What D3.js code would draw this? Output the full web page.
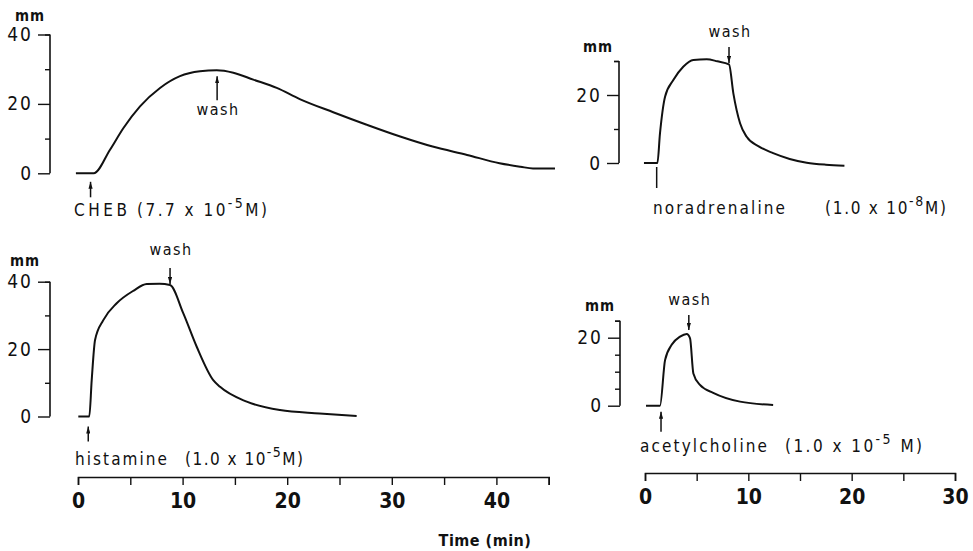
<!DOCTYPE html>
<html>
<head>
<meta charset="utf-8">
<script src="https://cdn.jsdelivr.net/npm/d3@7"></script>
<style>
  html, body { margin: 0; padding: 0; background: #fff; }
  svg { display: block; }
</style>
</head>
<body>
<script>
const W = 973, H = 551;
const FONT = "'Liberation Sans Narrow', 'DejaVu Sans Condensed', 'DejaVu Sans', sans-serif";
const INK = "#111";

// time axis ticks (min)
const leftTimeTicks = [0, 5, 10, 15, 20, 25, 30, 35, 40, 45];
const rightTimeTicks = [0, 5, 10, 15, 20, 25, 30];
const timeLabels = [0, 10, 20, 30, 40];

// traces: [time (min), contraction (mm)]
const chebTrace = [[-0.2, 0], [1.5, 0], [3.06, 6.8], [4.33, 13], [5.93, 19.3], [7.84, 24.6],
  [9.75, 28], [11.66, 29.4], [13.26, 29.7], [14.85, 29], [16.76, 27], [19.0, 24.6],
  [21.2, 21.4], [24.4, 17.6], [27.6, 14], [30.8, 10.6], [33.9, 7.7], [37.2, 5.3],
  [40.3, 2.9], [42.3, 1.9], [43.5, 1.4], [45.6, 1.4]];
const noradTrace = [[-0.1, 0], [1.2, 0], [1.45, 8.7], [1.94, 19.5], [2.74, 24.4], [3.7, 28.3],
  [4.68, 30.3], [5.97, 30.5], [7.0, 29.9], [8.13, 29], [8.55, 20.5], [9.2, 11.7],
  [9.84, 7.7], [11.0, 4.9], [12.4, 2.9], [14.0, 1.2], [15.65, 0.1], [17.5, -0.5], [19.3, -0.8]];
const histTrace = [[0.03, 0], [1.08, 0], [1.31, 10.8], [1.63, 22.7], [2.42, 28.6], [3.7, 33.6],
  [5.29, 37.3], [6.57, 39.3], [7.8, 39.4], [8.8, 39.0], [10.07, 30.6], [11.35, 20.7],
  [12.93, 10.8], [13.58, 8.8], [16.13, 4.4], [19.31, 1.9], [23.1, 0.9], [26.64, 0.15]];
const achTrace = [[0.1, 0], [1.45, 0], [1.94, 13.4], [2.58, 17.9], [3.39, 20.3], [4.04, 21.1],
  [4.36, 19.8], [4.68, 9.5], [5.32, 6.1], [6.6, 3.8], [9.2, 1.2], [12.4, 0.2]];

// y axis ticks (mm)
const chebMajor = [0, 20, 40], chebMinor = [10, 30];
const noradMajor = [0, 20], noradMinor = [10, 30];
const histMajor = [0, 20, 40], histMinor = [10, 30];
const achMajor = [0, 20], achMinor = [5, 10, 15, 25];

// drug addition and wash times (min)
const chebInject = 1.2, chebWash = 13.3;
const noradInject = 1.13, noradWash = 8.13;
const histInject = 0.98, histWash = 8.8;
const achInject = 1.55, achWash = 4.24;

const xLeft = d3.scaleLinear().domain([0, 45]).range([78, 548.7]);
const xRight = d3.scaleLinear().domain([0, 30]).range([645, 955]);

const svg = d3.select("body").append("svg")
  .attr("width", W).attr("height", H)
  .style("background", "#fff");

svg.append("defs").append("marker")
  .attr("id", "head")
  .attr("viewBox", "0 0 10 6")
  .attr("refX", 10).attr("refY", 3)
  .attr("markerUnits", "userSpaceOnUse")
  .attr("markerWidth", 7).attr("markerHeight", 4.2)
  .attr("orient", "auto")
  .append("path")
  .attr("d", "M0,0 L10,3 L0,6 Z")
  .attr("fill", INK);

// Bottom time axes: ticks hang below the line.
function timeAxis(x, y, ticks) {
  const g = svg.append("g").attr("transform", `translate(0,${y})`)
    .call(d3.axisBottom(x).tickValues(ticks).tickSize(8).tickSizeOuter(8).tickPadding(8)
      .tickFormat(d => timeLabels.includes(d) ? d : ""));
  g.select(".domain").attr("stroke", INK).attr("stroke-width", 1.6);
  g.selectAll(".tick line").attr("stroke", INK).attr("stroke-width", 1.4);
  g.selectAll(".tick text").attr("fill", INK)
    .style("font-family", FONT).style("font-size", "21px").style("font-weight", "bold");
}
timeAxis(xLeft, 477, leftTimeTicks);
timeAxis(xRight, 473, rightTimeTicks);

svg.append("text")
  .attr("x", 485).attr("y", 546)
  .attr("text-anchor", "middle")
  .attr("fill", INK)
  .style("font-family", FONT).style("font-size", "16px").style("font-weight", "bold")
  .style("letter-spacing", "0.5px")
  .text("Time (min)");

const panels = [
  { trace: chebTrace, x: xLeft, yDomain: [0, 40], yRange: [173.3, 34.5], axisX: 50,
    major: chebMajor, minor: chebMinor, mm: [30, 21],
    inject: chebInject, injectY: [24, 8.5], injectHead: true,
    wash: chebWash, washY: [-73, -97], washLabelY: -58.5,
    labels: [
      { x: 74, len: 53, parts: ["CHEB"] },
      { x: 137, len: 130, parts: ["(7.7 x 10", "-5", "M)"] }
    ], labelY: 216 },
  { trace: noradTrace, x: xRight, yDomain: [0, 30], yRange: [163, 61], axisX: 619,
    major: noradMajor, minor: noradMinor, mm: [598, 52],
    inject: noradInject, injectY: [25, 4], injectHead: false,
    wash: noradWash, washY: [-116, -100], washLabelY: -126,
    labels: [
      { x: 653, len: 132, parts: ["noradrenaline"] },
      { x: 825, len: 121, parts: ["(1.0 x 10", "-8", "M)"] }
    ], labelY: 214 },
  { trace: histTrace, x: xLeft, yDomain: [0, 40], yRange: [416.5, 281.7], axisX: 50,
    major: histMajor, minor: histMinor, mm: [25, 266],
    inject: histInject, injectY: [25, 10], injectHead: true,
    wash: histWash, washY: [-148.5, -132.5], washLabelY: -161.5,
    labels: [
      { x: 75, len: 92, parts: ["histamine"] },
      { x: 185, len: 118, parts: ["(1.0 x 10", "-5", "M)"] }
    ], labelY: 465 },
  { trace: achTrace, x: xRight, yDomain: [0, 25], yRange: [405.7, 320.7], axisX: 620,
    major: achMajor, minor: achMinor, mm: [600, 311],
    inject: achInject, injectY: [26, 6], injectHead: true,
    wash: achWash, washY: [-90.7, -75.7], washLabelY: -100.7,
    labels: [
      { x: 640, len: 127, parts: ["acetylcholine"] },
      { x: 785, len: 137, parts: ["(1.0 x 10", "-5", " M)"] }
    ], labelY: 452 }
];

const line = d3.line().curve(d3.curveMonotoneX);

panels.forEach(p => {
  const y = d3.scaleLinear().domain(p.yDomain).range(p.yRange);
  const y0 = y(0);

  // y axis: long labelled ticks plus short unlabelled ones
  const ga = svg.append("g").attr("transform", `translate(${p.axisX},0)`)
    .call(d3.axisLeft(y).tickValues(p.major).tickSize(12).tickSizeOuter(0).tickPadding(5));
  ga.select(".domain").remove();
  ga.selectAll(".tick line").attr("stroke", INK).attr("stroke-width", 1.4);
  ga.selectAll(".tick text").attr("fill", INK)
    .style("font-family", FONT).style("font-size", "19px").style("letter-spacing", "2px");
  const gm = svg.append("g").attr("transform", `translate(${p.axisX},0)`)
    .call(d3.axisLeft(y).tickValues(p.minor.concat([p.yDomain[1]])).tickSize(5).tickFormat(""));
  gm.select(".domain").remove();
  gm.selectAll(".tick line").attr("stroke", INK).attr("stroke-width", 1.4);
  svg.append("line")
    .attr("x1", p.axisX).attr("x2", p.axisX)
    .attr("y1", p.yRange[0]).attr("y2", p.yRange[1])
    .attr("stroke", INK).attr("stroke-width", 1.6);

  svg.append("text")
    .attr("x", p.mm[0]).attr("y", p.mm[1])
    .attr("text-anchor", "middle").attr("fill", INK)
    .style("font-family", FONT).style("font-size", "15px").style("font-weight", "bold")
    .style("letter-spacing", "1px")
    .text("mm");

  // trace
  svg.append("path")
    .attr("d", line(p.trace.map(d => [p.x(d[0]), y(d[1])])))
    .attr("fill", "none").attr("stroke", INK).attr("stroke-width", 2);

  // drug addition marker
  const xi = p.x(p.inject);
  svg.append("line")
    .attr("x1", xi).attr("x2", xi)
    .attr("y1", y0 + p.injectY[0]).attr("y2", y0 + p.injectY[1])
    .attr("stroke", INK).attr("stroke-width", 1.5)
    .attr("marker-end", p.injectHead ? "url(#head)" : null);

  // wash marker
  const xw = p.x(p.wash);
  svg.append("line")
    .attr("x1", xw).attr("x2", xw)
    .attr("y1", y0 + p.washY[0]).attr("y2", y0 + p.washY[1])
    .attr("stroke", INK).attr("stroke-width", 1.5)
    .attr("marker-end", "url(#head)");
  svg.append("text")
    .attr("x", xw + 1).attr("y", y0 + p.washLabelY)
    .attr("text-anchor", "middle").attr("fill", INK)
    .style("font-family", FONT).style("font-size", "16px")
    .style("letter-spacing", "1.5px")
    .text("wash");

  // drug label
  p.labels.forEach(l => {
    const t = svg.append("text")
      .attr("x", l.x).attr("y", p.labelY)
      .attr("fill", INK)
      .attr("textLength", l.len).attr("lengthAdjust", "spacing")
      .style("font-family", FONT).style("font-size", "17px");
    if (l.parts.length === 1) {
      t.text(l.parts[0]);
    } else {
      t.append("tspan").text(l.parts[0]);
      t.append("tspan").attr("dy", -8).style("font-size", "14px").text(l.parts[1]);
      t.append("tspan").attr("dy", 8).text(l.parts[2]);
    }
  });
});
</script>
</body>
</html>
